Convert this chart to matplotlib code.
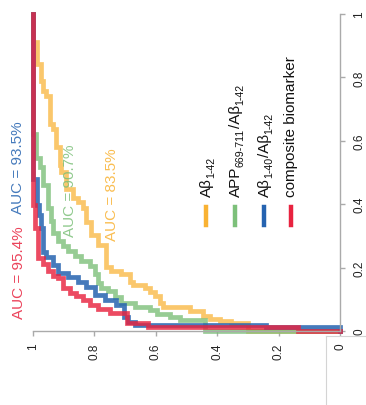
import matplotlib
matplotlib.use("Agg")
import matplotlib.pyplot as plt
from matplotlib.lines import Line2D

plt.rcParams['font.family'] = ['Liberation Sans', 'DejaVu Sans']

# ROC staircases: sensitivity (horizontal, reversed) vs. false-positive rate (vertical)
ab42_sens = [0.0, 0.300, 0.355, 0.391, 0.423, 0.446, 0.489, 0.577, 0.586, 0.603, 0.619,
             0.635, 0.674, 0.684, 0.713, 0.746, 0.762, 0.788, 0.811, 0.827, 0.837, 0.853,
             0.870, 0.893, 0.909, 0.912, 0.925, 0.935, 0.945, 0.958, 0.967, 0.974, 0.987, 1.0]
ab42_fpr = [0.0, 0.025, 0.032, 0.038, 0.047, 0.063, 0.076, 0.089, 0.111, 0.123, 0.136,
            0.146, 0.155, 0.180, 0.190, 0.203, 0.272, 0.304, 0.345, 0.389, 0.408, 0.421,
            0.449, 0.503, 0.525, 0.582, 0.636, 0.652, 0.741, 0.756, 0.788, 0.842, 0.911, 1.0]

app_sens = [0.0, 0.440, 0.521, 0.554, 0.596, 0.619, 0.668, 0.713, 0.733, 0.756, 0.779,
            0.788, 0.798, 0.814, 0.844, 0.863, 0.886, 0.902, 0.919, 0.935, 0.941, 0.951,
            0.967, 0.977, 0.990, 1.0]
app_fpr = [0.0, 0.035, 0.044, 0.054, 0.066, 0.076, 0.089, 0.108, 0.127, 0.136, 0.152,
           0.180, 0.206, 0.222, 0.237, 0.253, 0.269, 0.285, 0.310, 0.348, 0.389, 0.459,
           0.516, 0.547, 0.620, 1.0]

ratio_sens = [0.0, 0.0, 0.241, 0.668, 0.691, 0.704, 0.730, 0.765, 0.798, 0.827, 0.853,
              0.886, 0.919, 0.935, 0.958, 0.967, 0.974, 0.980, 0.987, 1.0]
ratio_fpr = [0.0, 0.0125, 0.019, 0.028, 0.044, 0.082, 0.098, 0.114, 0.139, 0.155, 0.171,
             0.184, 0.209, 0.234, 0.250, 0.326, 0.367, 0.399, 0.478, 1.0]

comp_sens = [0.0, 0.137, 0.625, 0.694, 0.749, 0.788, 0.814, 0.837, 0.860, 0.879, 0.902,
             0.919, 0.935, 0.951, 0.967, 0.984, 0.993, 1.0]
comp_fpr = [0.0, 0.0125, 0.025, 0.057, 0.070, 0.082, 0.098, 0.111, 0.120, 0.136, 0.168,
            0.174, 0.190, 0.212, 0.231, 0.326, 0.399, 1.0]

# legend labels as (text, is_subscript) runs
series_labels = [
    [('Aβ', False), ('1-42', True)],
    [('APP', False), ('669-711', True), ('/Aβ', False), ('1-42', True)],
    [('Aβ', False), ('1-40', True), ('/Aβ', False), ('1-42', True)],
    [('composite biomarker', False)],
]
auc_labels = ['AUC = 83.5%', 'AUC = 90.7%', 'AUC = 93.5%', 'AUC = 95.4%']
line_colors = ['#F9B233', '#7DC07A', '#2563B0', '#E8233F']
ticks = [0, 0.2, 0.4, 0.6, 0.8, 1]
tick_labels = ['0', '0.2', '0.4', '0.6', '0.8', '1']

W, H = 366, 406
fig = plt.figure(figsize=(W / 100, H / 100), dpi=100)
ax = fig.add_axes([33 / W, 1 - 332 / H, (340 - 33) / W, (332 - 15) / H])

curves = [(ab42_sens, ab42_fpr), (app_sens, app_fpr),
          (ratio_sens, ratio_fpr), (comp_sens, comp_fpr)]
alphas = [0.72, 0.8, 0.85, 0.82]
for (s, f), c, a in zip(curves, line_colors, alphas):
    ax.plot(s, f, drawstyle='steps-post', color=c, lw=3.4, alpha=a,
            solid_joinstyle='miter', clip_on=False)

ax.set_xlim(1, 0)
ax.set_ylim(0, 1)
ax.yaxis.tick_right()
for side in ('left', 'top'):
    ax.spines[side].set_visible(False)
for side in ('right', 'bottom'):
    ax.spines[side].set_color('#aaaaaa')
    ax.spines[side].set_linewidth(1.0)
ax.set_xticks(ticks)
ax.set_xticklabels(tick_labels, rotation=90)
ax.set_yticks(ticks)
ax.set_yticklabels(tick_labels, rotation=90, va='center')
ax.tick_params(axis='both', direction='out', length=3.5, width=1.0,
               color='#aaaaaa', labelsize=8.5, labelcolor='#222222')
ax.tick_params(axis='x', pad=5)
ax.tick_params(axis='y', pad=6)


def fx(px):
    return px / W


def fy(py):
    return 1 - py / H


# AUC annotations
auc_pos = [(112, 195), (70, 191), (18, 168), (19, 273)]
for txt, (px, py), c in zip(auc_labels, auc_pos, line_colors):
    fig.text(fx(px), fy(py), txt, rotation=90, ha='center', va='center',
             fontsize=11, color=c, alpha=0.85)

# Legend with vertical handles and upward-running labels built from runs
renderer = fig.canvas.get_renderer()


def rotated_label(x_base, y_start, runs, size=11.0):
    y = y_start
    for text, sub in runs:
        fs = size * 0.7 if sub else size
        dx = 3.2 if sub else 0.0
        t = fig.text(fx(x_base + dx), fy(y), text, rotation=90,
                     rotation_mode='anchor', ha='left', va='baseline',
                     fontsize=fs, color='#111111')
        y -= t.get_window_extent(renderer).height


leg_x = [206, 235, 264, 291]
leg_base = [211, 240, 269, 295]
for runs, px, bx, c in zip(series_labels, leg_x, leg_base, line_colors):
    fig.add_artist(Line2D([fx(px), fx(px)], [fy(226), fy(208)],
                          transform=fig.transFigure, color=c, lw=3.2))
    rotated_label(bx, 197, runs)

# thin frame lines at the lower right corner
fig.add_artist(Line2D([fx(326), fx(326)], [fy(337), fy(406)],
                      transform=fig.transFigure, color='#d4d4d4', lw=0.8))
fig.add_artist(Line2D([fx(326), fx(366)], [fy(337), fy(337)],
                      transform=fig.transFigure, color='#d4d4d4', lw=0.8))

fig.savefig('out.png', dpi=100)
